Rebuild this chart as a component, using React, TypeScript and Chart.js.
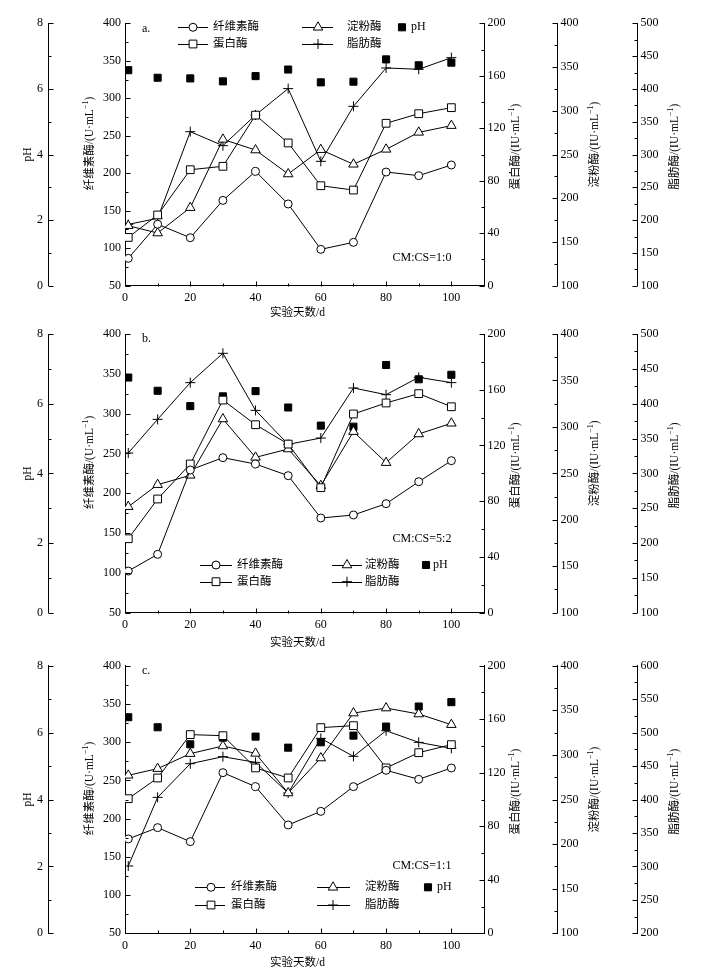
import React, { useEffect, useRef } from 'react';
import { Chart, registerables } from 'chart.js';
import { drawPoint } from 'chart.js/helpers';

Chart.register(...registerables);

const SERIF = '"Liberation Serif", "Noto Sans CJK SC", serif';

// sampling days
const days = [1, 10, 20, 30, 40, 50, 60, 70, 80, 90, 100];

// a. CM:CS=1:0
const celA = [86.5, 132, 114, 163.8, 202.5, 159, 98.5, 107.8, 201.6, 196.8, 211];
const proA = [36.8, 53.9, 88.4, 91, 130, 108.8, 76.2, 72.9, 123.8, 131.1, 135.7];
const amyA = [168.6, 160.2, 189.2, 267.3, 255.1, 227.7, 255.5, 238.8, 255.9, 275.3, 283];
const lipA = [193.5, 202.7, 334.8, 313.5, 360.2, 400.4, 289.6, 373.4, 431.9, 429.9, 447.6];
const phA = [6.57, 6.34, 6.32, 6.23, 6.39, 6.59, 6.2, 6.22, 6.9, 6.72, 6.8];

// b. CM:CS=5:2
const celB = [102.3, 123.3, 229.2, 244.7, 236.7, 222.1, 168.9, 172.7, 186.9, 214.5, 240.9];
const proB = [53.1, 81.6, 106.7, 152.6, 134.9, 121, 89.7, 142.6, 150.5, 157.2, 147.8];
const amyB = [214.1, 237.8, 247.9, 308.5, 267.2, 276.2, 236.7, 294.9, 261.5, 292.4, 303.9];
const lipB = [329.2, 377.5, 430.2, 472.3, 390.4, 341.6, 350.7, 422.5, 412.9, 437.8, 430.2];
const phB = [6.75, 6.37, 5.93, 6.21, 6.36, 5.89, 5.37, 5.34, 7.11, 6.7, 6.83];

// c. CM:CS=1:1
const celC = [173.4, 188.2, 169.9, 260.1, 241.8, 191.7, 209.5, 241.8, 263.2, 251.4, 266.2];
const proC = [100.6, 116.1, 148.5, 147.7, 123.6, 116.1, 153.7, 155.2, 123.6, 135, 141];
const amyC = [277.1, 284.6, 301.4, 310, 301.7, 257.3, 296.5, 346.9, 352.5, 345.8, 333.9];
const lipC = [300.6, 403.2, 453.5, 464, 455.5, 409.7, 491.4, 464.5, 502.8, 485.4, 476.5];
const phC = [6.46, 6.16, 5.65, 5.85, 5.88, 5.55, 5.71, 5.91, 6.18, 6.78, 6.91];

// axis ranges per panel
const lipRanges = [[100, 500], [100, 500], [200, 600]];
const panelLetters = ['a.', 'b.', 'c.'];
const ratioLabels = ['CM:CS=1:0', 'CM:CS=5:2', 'CM:CS=1:1'];
const seriesNames = ['纤维素酶', '蛋白酶', '淀粉酶', '脂肪酶', 'pH'];

const panelData = [
  [celA, proA, amyA, lipA, phA],
  [celB, proB, amyB, lipB, phB],
  [celC, proC, amyC, lipC, phC],
];

// layout of each panel (pixels inside its own canvas)
const layouts = [
  { h: 320, top: 23.3, bottom: 285.7, letterY: 29, ratioY: 258.3, xTitleY: 313,
    rows: [27.3, 44], c1: [178, 208, 193, 213], c2: [302, 333, 318, 347], c3: [402, 411] },
  { h: 330, top: 14, bottom: 292.7, letterY: 19, ratioY: 219, xTitleY: 323.3,
    rows: [245, 261.7], c1: [200, 232, 216, 237], c2: [332, 362, 347, 365], c3: [426, 433] },
  { h: 330, top: 15.7, bottom: 283.3, letterY: 20.7, ratioY: 215.7, xTitleY: 312.7,
    rows: [237.3, 255], c1: [195, 225, 211, 231], c2: [317, 350, 333, 365], c3: [428, 437] },
];

const markers: any[] = [
  { pointStyle: 'circle', radius: 4, fill: '#fff' },
  { pointStyle: 'rect', radius: 5.5, fill: '#fff' },
  { pointStyle: 'triangle', radius: 5.5, fill: '#fff' },
  { pointStyle: 'cross', radius: 5, fill: '#fff' },
  { pointStyle: 'rect', radius: 5, fill: '#000' },
];

const yIds = ['yCel', 'yPro', 'yAmy', 'yLip', 'yPH'];

function drawRotTitle(ctx: CanvasRenderingContext2D, main: string, sup: boolean, x: number, cy: number) {
  const F = '11.5px ' + SERIF;
  const S = '8px ' + SERIF;
  ctx.save();
  ctx.translate(x, cy);
  ctx.rotate(-Math.PI / 2);
  ctx.fillStyle = '#000';
  ctx.textBaseline = 'middle';
  ctx.textAlign = 'left';
  ctx.font = F;
  const w1 = ctx.measureText(main).width;
  let w2 = 0;
  let w3 = 0;
  if (sup) {
    ctx.font = S;
    w2 = ctx.measureText('−1').width;
    ctx.font = F;
    w3 = ctx.measureText(')').width;
  }
  let px = -(w1 + w2 + w3) / 2;
  ctx.font = F;
  ctx.fillText(main, px, 0);
  px += w1;
  if (sup) {
    ctx.font = S;
    ctx.fillText('−1', px, -4);
    px += w2;
    ctx.font = F;
    ctx.fillText(')', px, 0);
  }
  ctx.restore();
}

function Panel({ idx }: { idx: number }) {
  const ref = useRef<HTMLCanvasElement>(null);
  const L = layouts[idx];

  useEffect(() => {
    if (!ref.current) return;
    const series = panelData[idx];
    const [lipMin, lipMax] = lipRanges[idx];

    const datasets = series.map((vals, i) => ({
      label: seriesNames[i],
      data: days.map((d, j) => ({ x: d, y: vals[j] })),
      yAxisID: yIds[i],
      showLine: i < 4,
      borderColor: '#000',
      borderWidth: 1,
      backgroundColor: markers[i].fill,
      pointStyle: markers[i].pointStyle,
      pointRadius: markers[i].radius,
      pointBorderWidth: 1,
      pointBorderColor: '#000',
      pointBackgroundColor: markers[i].fill,
      tension: 0,
    }));

    const tickFont = { family: SERIF, size: 12 };
    const yAxis = (position: string, weight: number, min: number, max: number, step: number, width: number, pad: number) => ({
      type: 'linear',
      position,
      weight,
      min,
      max,
      grid: { drawOnChartArea: false, drawTicks: false },
      border: { display: true, color: '#000', width: 1 },
      ticks: { stepSize: step, padding: pad, color: '#000', font: tickFont, autoSkip: false },
      afterFit: (s: any) => { s.width = width; },
    });

    const tickSpecs: [string, number, number, number][] = [
      ['yPH', 2, 1, 1],
      ['yCel', 50, 25, 1],
      ['yPro', 40, 20, -1],
      ['yAmy', 50, 25, -1],
      ['yLip', 50, 25, -1],
      ['x', 20, 10, 0],
    ];

    const decor = {
      id: 'decor',
      afterDraw(chart: any) {
        const ctx: CanvasRenderingContext2D = chart.ctx;
        const ca = chart.chartArea;
        ctx.save();
        // inward tick marks
        ctx.strokeStyle = '#000';
        ctx.lineWidth = 1;
        for (const [id, major, minor, dir] of tickSpecs) {
          const s = chart.scales[id];
          const n = Math.round((s.max - s.min) / minor);
          for (let i = 0; i <= n; i++) {
            const v = s.min + i * minor;
            const q = (v - s.min) / major;
            const len = Math.abs(q - Math.round(q)) < 1e-6 ? 5 : 3;
            const p = Math.round(s.getPixelForValue(v)) + 0.5;
            ctx.beginPath();
            if (dir === 0) {
              const y0 = Math.round(s.top) + 0.5;
              ctx.moveTo(p, y0);
              ctx.lineTo(p, y0 - len);
            } else if (dir === 1) {
              const x0 = Math.round(s.right) + 0.5;
              ctx.moveTo(x0, p);
              ctx.lineTo(x0 + len, p);
            } else {
              const x0 = Math.round(s.left) + 0.5;
              ctx.moveTo(x0, p);
              ctx.lineTo(x0 - len, p);
            }
            ctx.stroke();
          }
        }

        // axis titles
        const mid = (ca.top + ca.bottom) / 2;
        drawRotTitle(ctx, 'pH', false, 28, mid);
        drawRotTitle(ctx, '纤维素酶/(U·mL', true, 90, mid - 11);
        drawRotTitle(ctx, '蛋白酶/(IU·mL', true, 516, mid - 8);
        drawRotTitle(ctx, '淀粉酶/(IU·mL', true, 595, mid - 10);
        drawRotTitle(ctx, '脂肪酶/(IU·mL', true, 675, mid - 8);

        ctx.fillStyle = '#000';
        ctx.textBaseline = 'middle';
        ctx.textAlign = 'center';
        ctx.font = '11.5px ' + SERIF;
        ctx.fillText('实验天数/d', 297.5, L.xTitleY);

        ctx.font = '12px ' + SERIF;
        ctx.fillText(ratioLabels[idx], 422, L.ratioY);
        ctx.textAlign = 'left';
        ctx.fillText(panelLetters[idx], 142, L.letterY);

        // legend
        const item = (si: number, lx0: number, lx1: number, mx: number, tx: number, y: number) => {
          if (si < 4) {
            ctx.beginPath();
            ctx.moveTo(lx0, Math.round(y) + 0.5);
            ctx.lineTo(lx1, Math.round(y) + 0.5);
            ctx.stroke();
          }
          ctx.fillStyle = markers[si].fill;
          ctx.strokeStyle = '#000';
          drawPoint(ctx, { pointStyle: markers[si].pointStyle, radius: markers[si].radius, borderWidth: 1, rotation: 0 } as any, mx, y);
          ctx.fillStyle = '#000';
          ctx.font = (si === 4 ? '12px ' : '11.5px ') + SERIF;
          ctx.fillText(seriesNames[si], tx, y);
        };
        const [r1, r2] = L.rows;
        item(0, L.c1[0], L.c1[1], L.c1[2], L.c1[3], r1);
        item(2, L.c2[0], L.c2[1], L.c2[2], L.c2[3], r1);
        item(4, 0, 0, L.c3[0], L.c3[1], r1);
        item(1, L.c1[0], L.c1[1], L.c1[2], L.c1[3], r2);
        item(3, L.c2[0], L.c2[1], L.c2[2], L.c2[3], r2);
        ctx.restore();
      },
    };

    const chart = new Chart(ref.current, {
      type: 'line',
      data: { datasets: datasets as any },
      options: {
        responsive: false,
        animation: false,
        layout: { padding: { top: L.top, left: 0, right: 0, bottom: 0 } },
        plugins: { legend: { display: false }, tooltip: { enabled: false } },
        scales: {
          x: {
            type: 'linear',
            position: 'bottom',
            min: 0,
            max: 110,
            grid: { drawOnChartArea: false, drawTicks: false },
            border: { display: true, color: '#000', width: 1 },
            ticks: {
              stepSize: 20,
              padding: 5,
              color: '#000',
              font: tickFont,
              maxRotation: 0,
              autoSkip: false,
              callback: (v: any) => (v > 100 ? '' : String(v)),
            },
            afterFit: (s: any) => { s.height = L.h - L.bottom; },
          },
          yPH: yAxis('left', 1, 0, 8, 2, 48, 5),
          yCel: yAxis('left', 0, 50, 400, 50, 77, 4),
          yPro: yAxis('right', 0, 0, 200, 40, 73, 3.5),
          yAmy: yAxis('right', 1, 100, 400, 50, 80, 3.5),
          yLip: yAxis('right', 2, lipMin, lipMax, 50, 78, 3.5),
        } as any,
      },
      plugins: [decor],
    });

    return () => {
      chart.destroy();
    };
  }, [idx]);

  return (
    <canvas
      ref={ref}
      width={715}
      height={L.h}
      style={{ display: 'block', width: 715, height: L.h }}
    />
  );
}

export default function App() {
  return (
    <div style={{ position: 'absolute', left: 0, top: 0, width: 715, height: 980, background: '#fff' }}>
      <Panel idx={0} />
      <Panel idx={1} />
      <Panel idx={2} />
    </div>
  );
}
